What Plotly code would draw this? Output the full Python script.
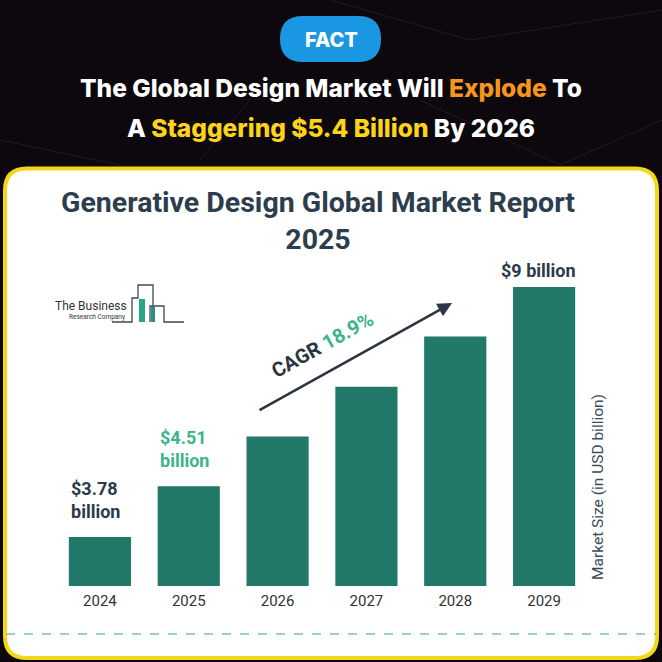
import math
import plotly.graph_objects as go

years = ["2024", "2025", "2026", "2027", "2028", "2029"]
market_size = [3.78, 4.51, 5.36, 6.37, 7.58, 9.0]
value_labels = ["$3.78<br>billion", "$4.51<br>billion", "", "", "", "$9 billion"]
cagr_label = "CAGR 18.9%"

W = H = 662
def px(x):
    return x / W
def py(y):
    return 1 - y / H

def rrect(x0, y0, x1, y1, r):
    rx = r / W
    ry = r / H
    a, b, c, d = px(x0), py(y0), px(x1), py(y1)  # b top, d bottom
    return (f"M {a+rx},{b} L {c-rx},{b} Q {c},{b} {c},{b-ry} "
            f"L {c},{d+ry} Q {c},{d} {c-rx},{d} L {a+rx},{d} "
            f"Q {a},{d} {a},{d+ry} L {a},{b-ry} Q {a},{b} {a+rx},{b} Z")

BAR = "#22796a"
DARK = "#2b3a4a"
GREEN = "#3db489"

fig = go.Figure()
fig.add_trace(go.Bar(x=years, y=market_size, marker=dict(color=BAR, line=dict(width=0)),
                     width=0.7, hoverinfo="skip"))

shapes = []
shapes.append(dict(type="path", xref="paper", yref="paper", path=rrect(5, 168.5, 657, 658, 22),
                   fillcolor="white", line=dict(color="#f3d71a", width=4), layer="below"))
shapes.append(dict(type="path", xref="paper", yref="paper", path=rrect(280, 16, 381, 62, 23),
                   fillcolor="#1a97e3", line=dict(width=0), layer="below"))
shapes.append(dict(type="line", xref="paper", yref="paper", x0=px(6), x1=px(656), y0=py(634), y1=py(634),
                   line=dict(color="#3a9ea3", width=1.2, dash="dash")))
logo_pts = [(112, 322), (132, 322), (132, 298), (138, 298), (138, 285), (153, 285), (153, 322)]
p = "M " + " L ".join(f"{px(x)},{py(y)}" for x, y in logo_pts)
shapes.append(dict(type="path", xref="paper", yref="paper", path=p, line=dict(color="#3c4a55", width=1.3)))
logo_pts2 = [(150, 322), (150, 306), (164, 306), (164, 322), (184, 322)]
p2 = "M " + " L ".join(f"{px(x)},{py(y)}" for x, y in logo_pts2)
shapes.append(dict(type="path", xref="paper", yref="paper", path=p2, line=dict(color="#3c4a55", width=1.3)))
shapes.append(dict(type="rect", xref="paper", yref="paper", x0=px(139), x1=px(145), y0=py(322), y1=py(299),
                   fillcolor="#2aa487", line=dict(width=0)))
shapes.append(dict(type="rect", xref="paper", yref="paper", x0=px(151), x1=px(155), y0=py(322), y1=py(307),
                   fillcolor="#2a8f86", line=dict(width=0)))
for (x0, y0, x1, y1) in [(330, 0, 470, 40), (470, 40, 662, 10), (250, 100, 200, 160), (420, 100, 560, 165),
                         (560, 165, 662, 120), (0, 140, 120, 165)]:
    shapes.append(dict(type="line", xref="paper", yref="paper", x0=px(x0), y0=py(y0), x1=px(x1), y1=py(y1),
                       line=dict(color="#221c23", width=1), layer="below"))

ann = []
def pa(x, y, text, font, **kw):
    d = dict(xref="paper", yref="paper", x=px(x), y=py(y), text=text, showarrow=False,
             xanchor="center", yanchor="middle", font=font)
    d.update(kw)
    ann.append(d)

pa(331, 40, "FACT", dict(family="Inter", size=20, color="white", weight=800))
pa(331, 88, "The Global Design Market Will <span style='color:#f7961d'>Explode</span> To",
   dict(family="Inter", size=24.5, color="white", weight=800))
pa(331, 128, "A <span style='color:#fcd419'>Staggering $5.4 Billion</span> By 2026",
   dict(family="Inter", size=24.5, color="white", weight=800))
pa(318, 221, "<b>Generative Design Global Market Report<br>2025</b>",
   dict(family="Roboto", size=28.5, color="#2e3d4c"), align="center")

for i, (yr, v, lab) in enumerate(zip(years, market_size, value_labels)):
    if not lab:
        continue
    color = GREEN if i == 1 else DARK
    if i == len(years) - 1:
        ann.append(dict(x=i, y=math.log10(v), text=f"<b>{lab}</b>", showarrow=False, yanchor="bottom",
                        xanchor="center", yshift=4, xshift=-6, font=dict(family="Roboto", size=18, color=color)))
    else:
        ann.append(dict(x=i, y=math.log10(v), text=f"<b>{lab}</b>", showarrow=False, yanchor="bottom",
                        xanchor="left", xshift=-31, yshift=13, align="left",
                        font=dict(family="Roboto", size=18, color=color)))

ann.append(dict(xref="paper", yref="paper", x=px(452), y=py(303), ax=-194, ay=108, axref="pixel", ayref="pixel",
                text="", showarrow=True, arrowhead=2, arrowsize=1.1, arrowwidth=2.6, arrowcolor="#2b3642"))
pa(322, 345, f"<b>{cagr_label.split(' ')[0]} <span style='color:{GREEN}'>{cagr_label.split(' ')[1]}</span></b>",
   dict(family="Roboto", size=20, color="#2b3642"), textangle=-29)
pa(598, 487, "Market Size (in USD billion)", dict(family="Roboto", size=15.5, color="#3e4a55"), textangle=-90)
pa(129, 306, "The Business", dict(family="Roboto", size=12, color="#333"), xanchor="right")
pa(127, 317, "Research Company", dict(family="Roboto", size=6.5, color="#333"), xanchor="right")

fig.update_layout(
    width=W, height=H, margin=dict(l=0, r=0, t=0, b=0, autoexpand=False),
    paper_bgcolor="#0c080d", plot_bgcolor="rgba(0,0,0,0)",
    showlegend=False, shapes=shapes, annotations=ann,
    xaxis=dict(type="category", range=[-0.5, 5.5], domain=[px(55.5), px(588.5)], showgrid=False,
               showline=False, ticks="", automargin=False, ticklabelstandoff=4,
               tickfont=dict(family="Roboto", size=15, color="#333")),
    yaxis=dict(type="log", domain=[py(586), py(270)], range=[0.5037, 0.9799], visible=False, automargin=False),
    bargap=0.3,
)
fig.write_html("out.html")
